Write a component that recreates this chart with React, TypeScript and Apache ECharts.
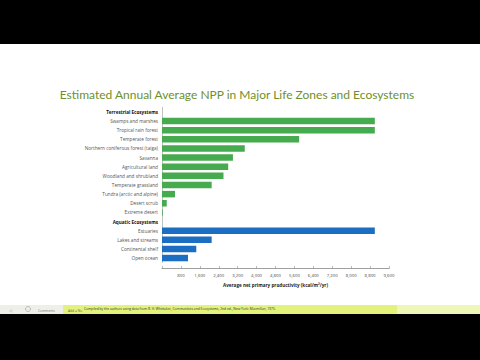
import React, { useEffect, useRef } from "react";
import * as echarts from "echarts";

const categories = [
  "Terrestrial Ecosystems",
  "Swamps and marshes",
  "Tropical rain forest",
  "Temperate forest",
  "Northern coniferous forest (taiga)",
  "Savanna",
  "Agricultural land",
  "Woodland and shrubland",
  "Temperate grassland",
  "Tundra (arctic and alpine)",
  "Desert scrub",
  "Extreme desert",
  "Aquatic Ecosystems",
  "Estuaries",
  "Lakes and streams",
  "Continental shelf",
  "Open ocean",
];
const headers = ["Terrestrial Ecosystems", "Aquatic Ecosystems"];
const terrestrialValues: (number | null)[] = [
  null, 9000, 9000, 5800, 3500, 3000, 2800, 2600, 2100, 550, 200, 30,
  null, null, null, null, null,
];
const aquaticValues: (number | null)[] = [
  null, null, null, null, null, null, null, null, null, null, null, null,
  null, 9000, 2100, 1450, 1100,
];
const xTicks = { min: 0, max: 9600, interval: 800 };

export default function App() {
  const ref = useRef<HTMLDivElement>(null);
  useEffect(() => {
    if (!ref.current) return;
    const chart = echarts.init(ref.current, null, { renderer: "svg" });
    const toData = (arr: (number | null)[]) => arr.map((v) => (v === null ? "-" : v));
    chart.setOption({
      animation: false,
      backgroundColor: "#000000",
      graphic: [
        { type: "rect", shape: { x: 0, y: 44, width: 480, height: 261 }, style: { fill: "#ffffff" }, z: -10 },
        { type: "rect", shape: { x: 0, y: 305, width: 63, height: 9 }, style: { fill: "#eef0e8" }, z: -10 },
        { type: "rect", shape: { x: 63, y: 305, width: 334, height: 9 }, style: { fill: "#e2f27a" }, z: -10 },
        { type: "rect", shape: { x: 397, y: 305, width: 83, height: 9 }, style: { fill: "#eef7b8" }, z: -10 },
        {
          type: "text",
          x: 237,
          y: 94,
          style: {
            text: "Estimated Annual Average NPP in Major Life Zones and Ecosystems",
            fill: "#6f8f2a",
            font: "12px Lato",
            align: "center",
            verticalAlign: "middle",
          },
        },
        {
          type: "text",
          x: 84,
          y: 308,
          style: {
            text: "Compiled by the authors using data from R. H. Whittaker, Communities and Ecosystems, 2nd ed., New York: Macmillan, 1975.",
            fill: "#333333",
            font: "3.3px 'Open Sans'",
            align: "left",
            verticalAlign: "middle",
          },
        },
        { type: "text", x: 10, y: 310, style: { text: "◁", fill: "#777777", font: "4px 'Open Sans'", align: "center", verticalAlign: "middle" } },
        { type: "circle", shape: { cx: 28, cy: 309, r: 2.5 }, style: { fill: "none", stroke: "#999999", lineWidth: 0.6 } },
        { type: "text", x: 38, y: 310, style: { text: "Comments", fill: "#777777", font: "3.3px 'Open Sans'", align: "left", verticalAlign: "middle" } },
        { type: "text", x: 68, y: 310, style: { text: "Add a No", fill: "#666666", font: "3.3px 'Open Sans'", align: "left", verticalAlign: "middle" } },
      ],
      grid: { left: 162, right: 91, top: 107.4, bottom: 97.4, containLabel: false },
      xAxis: {
        type: "value",
        min: xTicks.min,
        max: xTicks.max,
        interval: xTicks.interval,
        offset: 6,
        splitLine: { show: false },
        axisLine: { show: true, lineStyle: { color: "#888888", width: 0.8 } },
        axisTick: { show: true, inside: true, length: 2.5, lineStyle: { color: "#888888", width: 0.6 } },
        axisLabel: {
          color: "#444444",
          fontSize: 4.3,
          fontFamily: "Open Sans",
          margin: 4,
          formatter: (v: number) => (v === 0 ? "" : v.toLocaleString("en-US")),
        },
        name: "Average net primary productivity (kcal/m²/yr)",
        nameLocation: "middle",
        nameGap: 14,
        nameTextStyle: { color: "#222222", fontSize: 4.6, fontWeight: "bold", fontFamily: "Open Sans" },
      },
      yAxis: {
        type: "category",
        data: categories,
        inverse: true,
        axisTick: { show: false },
        axisLine: { show: true, lineStyle: { color: "#999999", width: 0.6 } },
        axisLabel: {
          margin: 4,
          fontSize: 4.7,
          fontFamily: "Open Sans",
          color: "#555555",
          formatter: (v: string) => (headers.includes(v) ? `{h|${v}}` : v),
          rich: { h: { fontWeight: "bold", color: "#111111", fontSize: 4.6, fontFamily: "Open Sans" } },
        },
      },
      series: [
        {
          type: "bar",
          data: toData(terrestrialValues),
          barWidth: 6.5,
          barGap: "-100%",
          itemStyle: { color: "#46ab4e" },
        },
        {
          type: "bar",
          data: toData(aquaticValues),
          barWidth: 6.5,
          barGap: "-100%",
          itemStyle: { color: "#1b6ec2" },
        },
      ],
    });
    return () => chart.dispose();
  }, []);
  return (
    <div
      ref={ref}
      style={{ position: "fixed", left: 0, top: 0, width: 480, height: 360 }}
    />
  );
}
